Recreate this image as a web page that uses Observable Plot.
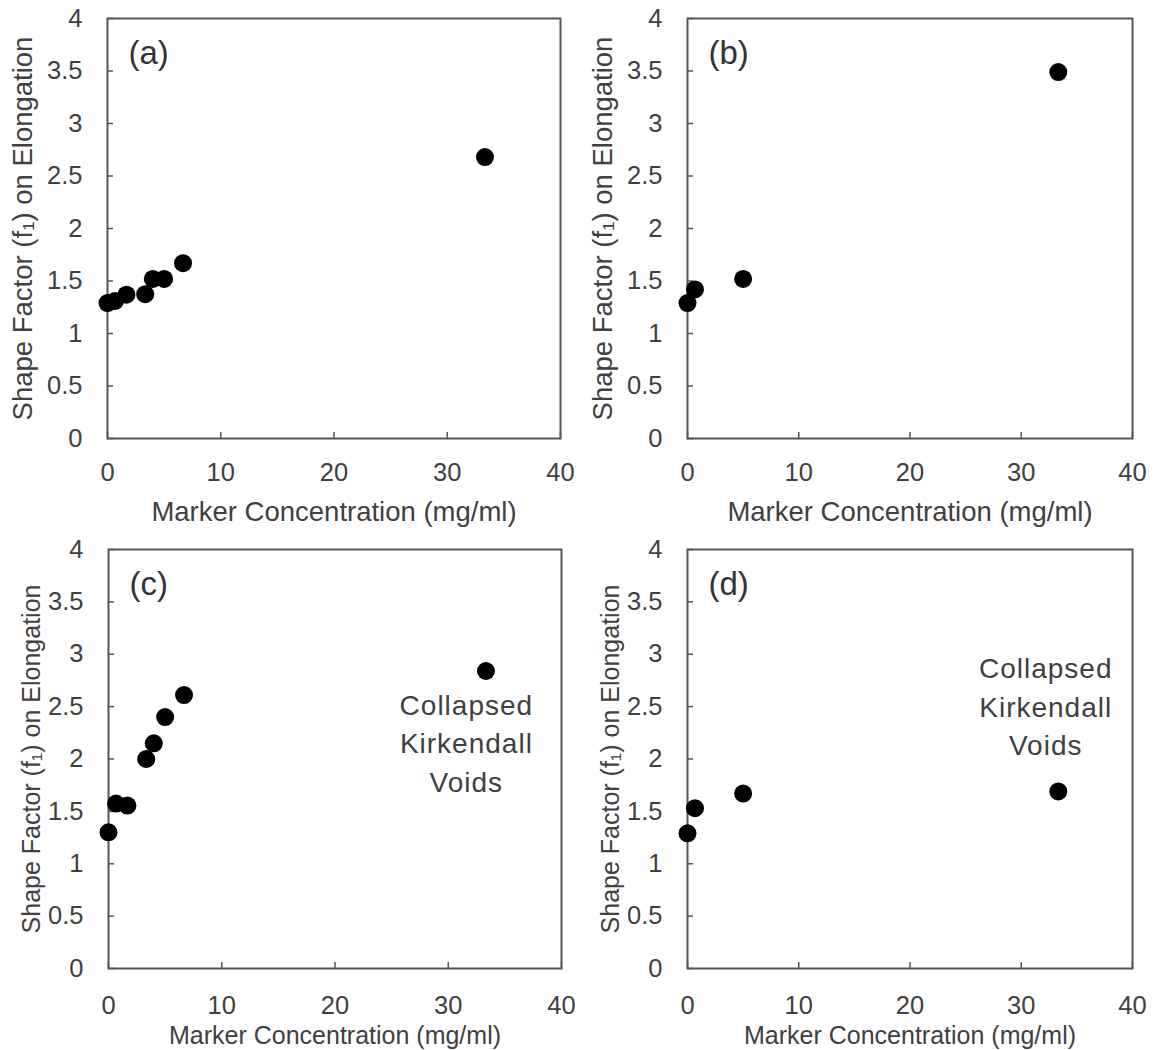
<!DOCTYPE html>
<html>
<head>
<meta charset="utf-8">
<script src="https://cdn.jsdelivr.net/npm/d3@7"></script>
<script src="https://cdn.jsdelivr.net/npm/@observablehq/plot@0.6"></script>
<style>
  html, body { margin: 0; padding: 0; background: #fff; }
  #wrap { position: relative; width: 1158px; height: 1050px; overflow: hidden; background: #fff; }
  .panel { position: absolute; }
</style>
</head>
<body>
<div id="wrap">
  <div class="panel" id="pa" style="left:0px; top:0px;"></div>
  <div class="panel" id="pb" style="left:579px; top:0px;"></div>
  <div class="panel" id="pc" style="left:0px; top:530px;"></div>
  <div class="panel" id="pd" style="left:579px; top:530px;"></div>
</div>
<script>
// ---- data ----
const concA = [0, 0.67, 1.67, 3.33, 4, 5, 6.67, 33.33];
const shapeA = [1.29, 1.31, 1.37, 1.375, 1.52, 1.52, 1.67, 2.68];
const concB = [0, 0.67, 5, 33.33];
const shapeB = [1.29, 1.42, 1.52, 3.49];
const concC = [0, 0.67, 1.67, 3.33, 4, 5, 6.67, 33.33];
const shapeC = [1.30, 1.575, 1.555, 2.0, 2.15, 2.40, 2.61, 2.84];
const concD = [0, 0.67, 5, 33.33];
const shapeD = [1.29, 1.53, 1.67, 1.69];
const xTicks = [0, 10, 20, 30, 40];
const yTicks = [0, 0.5, 1, 1.5, 2, 2.5, 3, 3.5, 4];
const panelLetters = ["(a)", "(b)", "(c)", "(d)"];
const noteText = "Collapsed\nKirkendall\nVoids";
const noteC = [{x: 31.6, y: 2.17}];
const noteD = [{x: 32.2, y: 2.52}];
const xLabel = "Marker Concentration (mg/ml)";
const yLabel = "Shape Factor (f\u2081) on Elongation";

const FONT = "'Liberation Sans', Arial, Helvetica, sans-serif";
const TXT = "#404040";

function panel({xs, ys, letter, note, marginLeft, marginRight, marginTop, marginBottom, height,
                labelSize, yLabelOffset, xLabelOffset, xTickPad}) {
  const data = xs.map((x, i) => ({x, y: ys[i]}));
  const marks = [
    Plot.frame({stroke: "#555", strokeWidth: 2}),
    Plot.axisY({ticks: yTicks, tickSize: -6, tickPadding: 31, stroke: "#555", strokeWidth: 1.5,
      tickFormat: d => String(d), fontSize: 25.5, fill: TXT,
      label: yLabel, labelAnchor: "center", labelArrow: "none", labelOffset: yLabelOffset}),
    Plot.axisX({ticks: xTicks, tickSize: -6, tickPadding: xTickPad, stroke: "#555", strokeWidth: 1.5,
      tickFormat: d => String(d), fontSize: 25.5, fill: TXT,
      label: xLabel, labelAnchor: "center", labelArrow: "none", labelOffset: xLabelOffset}),
    Plot.dot(data, {x: "x", y: "y", r: 9, fill: "#000", stroke: "none"}),
    Plot.text([letter], {frameAnchor: "top-left", dx: 21, dy: 35, text: d => d, textAnchor: "start",
      lineAnchor: "middle", fontSize: 33, fill: "#333"})
  ];
  if (note) {
    marks.push(Plot.text(note, {x: "x", y: "y", text: () => noteText, textAnchor: "middle",
      lineAnchor: "middle", lineHeight: 1.37, fontSize: 28, fill: TXT, className: "note"}));
  }
  const p = Plot.plot({
    width: 579, height,
    marginLeft, marginRight, marginTop, marginBottom,
    x: {domain: [0, 40]},
    y: {domain: [0, 4]},
    style: {fontFamily: FONT, fontSize: labelSize + "px", color: TXT, background: "none", overflow: "visible"},
    marks
  });
  d3.select(p).selectAll(".note text, g.note text").style("letter-spacing", "1px");
  d3.select(p).selectAll("[aria-label='x-axis label'] text, [aria-label='y-axis label'] text")
    .style("font-size", labelSize + "px");
  return p;
}

document.getElementById("pa").appendChild(panel({xs: concA, ys: shapeA, letter: panelLetters[0],
  marginLeft: 107, marginRight: 19, marginTop: 18, marginBottom: 92, height: 530,
  labelSize: 27.5, yLabelOffset: 95, xLabelOffset: 82, xTickPad: 30}));
document.getElementById("pb").appendChild(panel({xs: concB, ys: shapeB, letter: panelLetters[1],
  marginLeft: 108, marginRight: 26, marginTop: 18, marginBottom: 92, height: 530,
  labelSize: 27.5, yLabelOffset: 95, xLabelOffset: 82, xTickPad: 30}));
document.getElementById("pc").appendChild(panel({xs: concC, ys: shapeC, letter: panelLetters[2], note: noteC,
  marginLeft: 108, marginRight: 18, marginTop: 19, marginBottom: 82, height: 520,
  labelSize: 25, yLabelOffset: 86, xLabelOffset: 75, xTickPad: 33.5}));
document.getElementById("pd").appendChild(panel({xs: concD, ys: shapeD, letter: panelLetters[3], note: noteD,
  marginLeft: 108, marginRight: 26, marginTop: 19, marginBottom: 82, height: 520,
  labelSize: 25, yLabelOffset: 86, xLabelOffset: 75, xTickPad: 33.5}));
</script>
</body>
</html>
